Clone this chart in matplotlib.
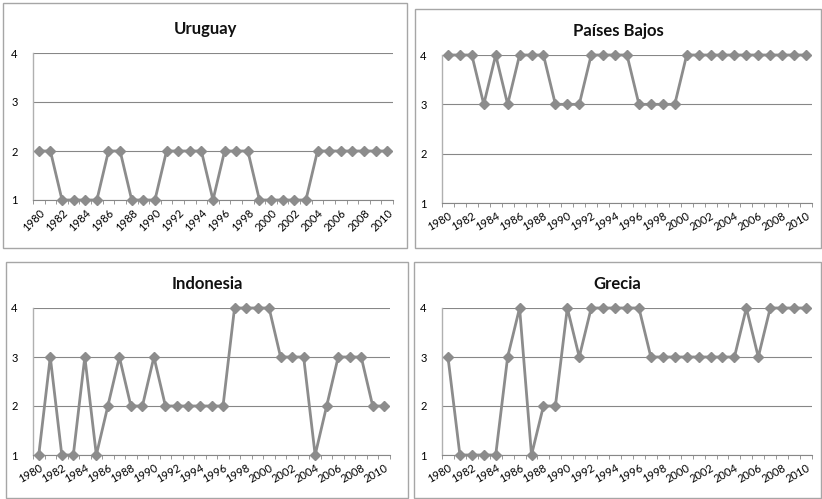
import numpy as np
import matplotlib.pyplot as plt
from matplotlib.patches import Rectangle

plt.rcParams['font.family'] = ['Lato', 'DejaVu Sans']

years = list(range(1980, 2011))

uruguay = [2, 2, 1, 1, 1, 1, 2, 2, 1, 1, 1, 2, 2, 2, 2, 1,
           2, 2, 2, 1, 1, 1, 1, 1, 2, 2, 2, 2, 2, 2, 2]
paises_bajos = [4, 4, 4, 3, 4, 3, 4, 4, 4, 3, 3, 3, 4, 4, 4, 4,
                3, 3, 3, 3, 4, 4, 4, 4, 4, 4, 4, 4, 4, 4, 4]
indonesia = [1, 3, 1, 1, 3, 1, 2, 3, 2, 2, 3, 2, 2, 2, 2, 2,
             2, 4, 4, 4, 4, 3, 3, 3, 1, 2, 3, 3, 3, 2, 2]
grecia = [3, 1, 1, 1, 1, 3, 4, 1, 2, 2, 4, 3, 4, 4, 4, 4,
          4, 3, 3, 3, 3, 3, 3, 3, 3, 4, 3, 4, 4, 4, 4]

W, H = 822, 499
LINE = "#8c8c8c"
GRID = "#878787"
BOX = "#a6a6a6"

# (title, data, axes box in px [left, top, right, bottom], frame box px, label rotation)
panels = [
    ("Uruguay", uruguay, (33, 53, 393, 200), (3, 3, 407, 248), 45),
    ("Países Bajos", paises_bajos, (442, 55, 812, 203), (415, 9, 821, 248), 30),
    ("Indonesia", indonesia, (33, 308, 390, 455), (6, 262, 408, 498), 30),
    ("Grecia", grecia, (442, 308, 812, 455), (414, 262, 821, 498), 30),
]

fig = plt.figure(figsize=(W / 100, H / 100), dpi=100)
fig.patch.set_facecolor("white")

for title, vals, (l, t, r, b), (fl, ft, fr, fb), rot in panels:
    # chart frame like the excel chart area
    fig.patches.append(Rectangle((fl / W, 1 - fb / H), (fr - fl) / W, (fb - ft) / H,
                                 transform=fig.transFigure, fill=False,
                                 edgecolor=BOX, linewidth=1.0))
    ax = fig.add_axes([l / W, 1 - b / H, (r - l) / W, (b - t) / H])
    x = np.arange(len(years))
    ax.plot(x, vals, color=LINE, linewidth=2.0, marker="D", markersize=5,
            markerfacecolor=LINE, markeredgecolor=LINE, zorder=3, clip_on=False)

    ax.set_xlim(-0.5, len(years) - 0.5)
    ax.set_ylim(1, 4)
    ax.set_yticks([1, 2, 3, 4])
    ax.yaxis.grid(True, color=GRID, linewidth=0.8)
    ax.set_axisbelow(True)

    ax.set_xticks(x[::2])
    ax.set_xticklabels([str(y) for y in years[::2]], rotation=rot,
                       ha="right", rotation_mode="anchor", fontsize=8)
    ax.set_xticks(np.arange(-0.5, len(years)), minor=True)
    ax.tick_params(axis="x", which="major", length=0, pad=5)
    ax.tick_params(axis="x", which="minor", length=3, color=GRID, direction="out")
    ax.tick_params(axis="y", length=0, labelsize=8, pad=11)

    for s in ["top", "right"]:
        ax.spines[s].set_visible(False)
    ax.spines["left"].set_color("#b0b0b0")
    ax.spines["bottom"].set_color(GRID)
    ax.spines["left"].set_linewidth(1.0)
    ax.spines["bottom"].set_linewidth(0.8)

    cx = (fl + fr) / 2
    fig.text(cx / W, 1 - (t - 24) / H, title, ha="center", va="center",
             fontsize=12, fontweight="bold", color="#111111")

fig.savefig("out.png", dpi=100)
